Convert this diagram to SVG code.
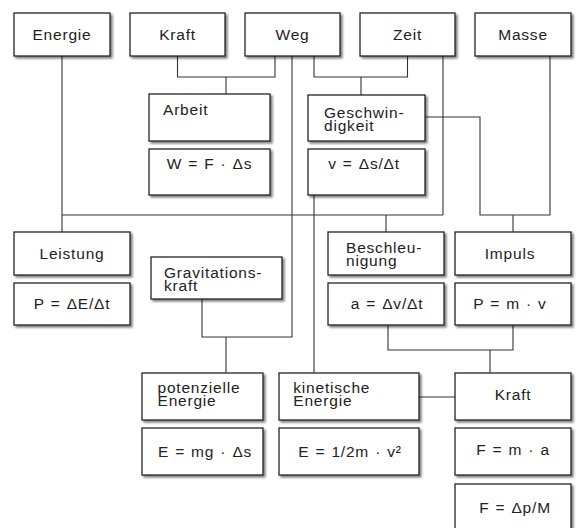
<svg xmlns="http://www.w3.org/2000/svg" width="577" height="528" viewBox="0 0 577 528">
<defs>
<filter id="sh" x="-10%" y="-10%" width="130%" height="140%">
<feDropShadow dx="2" dy="2" stdDeviation="1.2" flood-color="#000" flood-opacity="0.5"/>
</filter>
</defs>
<style>
rect{fill:#fff;stroke:#222;stroke-width:1.3;filter:url(#sh)}
text{font-family:"Liberation Sans",Arial,sans-serif;font-size:15.5px;fill:#222;letter-spacing:0.8px}
.c{text-anchor:middle}
.f{word-spacing:1px}
#connectors path{fill:none;stroke:#333;stroke-width:1.1}
</style>
<rect x="0" y="0" width="577" height="528" style="fill:#fff;stroke:none;filter:none"/>
<g id="connectors">
<path d="M62,56V232"/>
<path d="M62,215H443"/>
<path d="M443,56V215"/>
<path d="M386,215V232"/>
<path d="M177.5,56V77H275V56"/>
<path d="M226,77V94"/>
<path d="M292,56V337H202V299"/>
<path d="M226,337V373"/>
<path d="M314,56V77H407.5V56"/>
<path d="M361,77V95"/>
<path d="M425,117H480V215H550V56"/>
<path d="M513,215V232"/>
<path d="M314,195V373"/>
<path d="M388,325V350H513V325"/>
<path d="M490,350V373"/>
<path d="M419,397H455"/>
</g>
<g id="energie"><rect x="14" y="13" width="96" height="43"/><text class="c" x="62" y="39.5">Energie</text></g>
<g id="kraft"><rect x="130" y="13" width="95" height="43"/><text class="c" x="177.5" y="39.5">Kraft</text></g>
<g id="weg"><rect x="245" y="13" width="95" height="43"/><text class="c" x="292.5" y="39.5">Weg</text></g>
<g id="zeit"><rect x="360" y="13" width="95" height="43"/><text class="c" x="407.5" y="39.5">Zeit</text></g>
<g id="masse"><rect x="475" y="13" width="96" height="43"/><text class="c" x="523" y="39.5">Masse</text></g>
<g id="arbeit"><rect x="149" y="94" width="121" height="47"/><text x="163" y="115">Arbeit</text></g>
<g id="arbeit-formel"><rect x="149" y="149" width="121" height="46"/><text class="c f" x="209.5" y="169">W = F · Δs</text></g>
<g id="geschwindigkeit"><rect x="308" y="95" width="117" height="46"/><text x="324" y="118">Geschwin-</text><text x="324" y="131">digkeit</text></g>
<g id="geschwindigkeit-formel"><rect x="308" y="149" width="117" height="46"/><text class="c f" x="364" y="169">v = Δs/Δt</text></g>
<g id="leistung"><rect x="14" y="232" width="116" height="43"/><text class="c" x="72" y="258.5">Leistung</text></g>
<g id="leistung-formel"><rect x="14" y="283" width="116" height="42"/><text class="c f" x="72" y="308.5">P = ΔE/Δt</text></g>
<g id="gravitationskraft"><rect x="151" y="257" width="131" height="42"/><text x="164" y="277.5">Gravitations-</text><text x="164" y="290.5">kraft</text></g>
<g id="beschleunigung"><rect x="328" y="232" width="116" height="43"/><text x="346" y="252.5">Beschleu-</text><text x="346" y="265.5">nigung</text></g>
<g id="beschleunigung-formel"><rect x="328" y="283" width="116" height="42"/><text class="c f" x="387" y="308.5">a = Δv/Δt</text></g>
<g id="impuls"><rect x="455" y="232" width="116" height="43"/><text class="c" x="510" y="258.5">Impuls</text></g>
<g id="impuls-formel"><rect x="455" y="283" width="116" height="42"/><text class="c f" x="510" y="308.5">P = m · v</text></g>
<g id="potenzielle-energie"><rect x="142" y="373" width="121" height="47"/><text x="157.5" y="393">potenzielle</text><text x="157.5" y="406">Energie</text></g>
<g id="potenzielle-formel"><rect x="142" y="428" width="121" height="47"/><text class="c f" x="205" y="456.7">E = mg · Δs</text></g>
<g id="kinetische-energie"><rect x="279" y="373" width="140" height="47"/><text x="293.3" y="393">kinetische</text><text x="293.3" y="406">Energie</text></g>
<g id="kinetische-formel"><rect x="279" y="428" width="140" height="47"/><text class="c f" x="350" y="456.7">E = 1/2m · v²</text></g>
<g id="kraft2"><rect x="455" y="373" width="116" height="47"/><text class="c" x="513" y="400">Kraft</text></g>
<g id="kraft2-formel1"><rect x="455" y="428" width="116" height="47"/><text class="c f" x="513" y="455">F = m · a</text></g>
<g id="kraft2-formel2"><rect x="455" y="484" width="116" height="47"/><text class="c f" x="515" y="513.3">F = Δp/M</text></g>
</svg>
